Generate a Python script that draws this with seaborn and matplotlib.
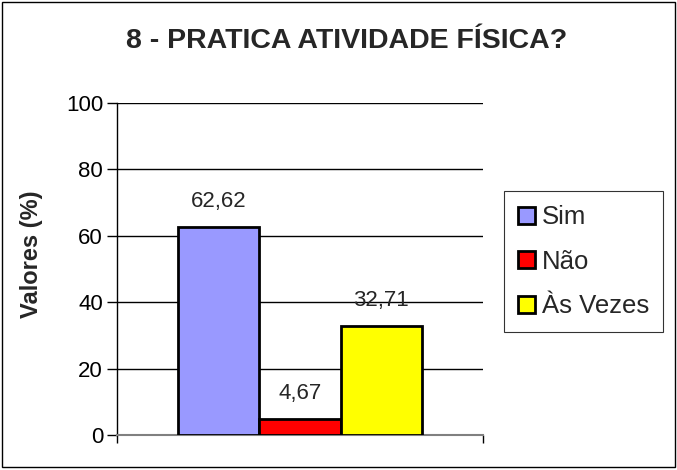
import pandas as pd
import seaborn as sns
import matplotlib.pyplot as plt
from matplotlib.patches import Patch, Rectangle

categorias = ['Sim', 'Não', 'Às Vezes']
valores = [62.62, 4.67, 32.71]
cores = ['#9999ff', '#ff0000', '#ffff00']
rotulos = ['62,62', '4,67', '32,71']

df = pd.DataFrame({'resposta': categorias, 'valor': valores})

sns.set_style('white')
plt.rcParams['font.family'] = ['Liberation Sans', 'DejaVu Sans']

fig = plt.figure(figsize=(6.77, 4.7), dpi=100)
ax = fig.add_axes([0.1728, 0.0745, 0.5406, 0.7065])

sns.barplot(data=df, x='resposta', y='valor', hue='resposta', palette=cores,
            saturation=1, width=1.0, edgecolor='black', linewidth=2,
            legend=False, ax=ax, zorder=3)

ax.set_xlim(-1.25, 3.25)
ax.set_ylim(0, 100)
ax.set_yticks([0, 20, 40, 60, 80, 100])
ax.set_xticks([-1.25, 3.25])
ax.set_xticklabels([])
ax.yaxis.grid(True, color='black', linewidth=1)
ax.set_axisbelow(True)
for s in ['top', 'right']:
    ax.spines[s].set_visible(False)
ax.spines['left'].set_color('black')
ax.spines['left'].set_linewidth(1)
ax.spines['bottom'].set_color('#808080')
ax.spines['bottom'].set_linewidth(1.5)
ax.tick_params(axis='y', which='both', left=True, length=7, width=1,
               labelsize=16, colors='black', pad=3)
ax.tick_params(axis='x', bottom=True, length=6, width=1, colors='black')
ax.set_xlabel('')
ax.set_ylabel('Valores (%)', fontsize=17, fontweight='bold')
ax.yaxis.set_label_coords(-0.202, 0.544)

for i, (v, r) in enumerate(zip(valores, rotulos)):
    ax.annotate(r, (i, v), xytext=(0, 11), textcoords='offset points',
                ha='center', va='bottom', fontsize=16)

fig.text(0.512, 0.913, '8 - PRATICA ATIVIDADE FÍSICA?', ha='center', va='center',
         fontsize=20.5, fontweight='bold')

handles = [Patch(facecolor=c, edgecolor='black', linewidth=2) for c in cores]
leg = fig.legend(handles, categorias, loc='center left',
                 bbox_to_anchor=(0.745, 0.443), fontsize=18.5, frameon=True,
                 fancybox=False, edgecolor='black', handlelength=0.65,
                 handleheight=0.65, handletextpad=0.25, labelspacing=0.8,
                 borderpad=0.55, borderaxespad=0)
leg.get_frame().set_linewidth(0.8)

fig.patches.append(Rectangle((0.003, 0.006), 0.994, 0.99, transform=fig.transFigure,
                             fill=False, edgecolor='black', linewidth=1))

plt.savefig('out.png', dpi=100)
